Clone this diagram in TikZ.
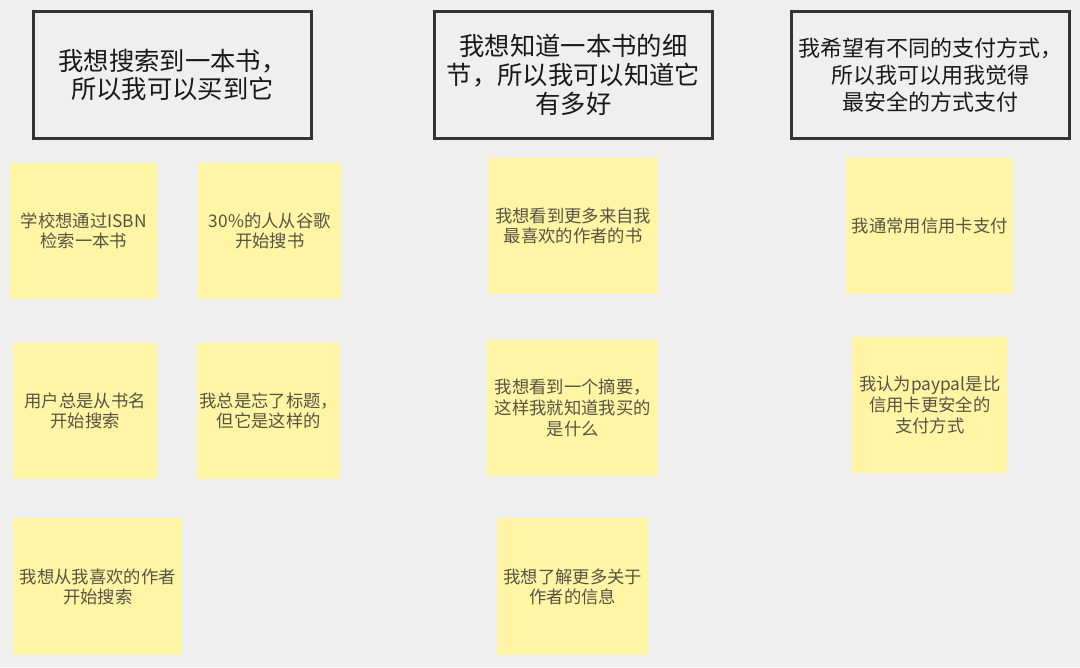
\documentclass[tikz,border=0pt]{standalone}
\usepackage{fontspec}
\setmainfont{Noto Sans CJK SC}
\usepackage{xcolor}
\usetikzlibrary{positioning}

\definecolor{bggray}{HTML}{EFEFEF}
\definecolor{noteyellow}{HTML}{FFF5A5}
\definecolor{notetext}{HTML}{555444}
\definecolor{framegray}{HTML}{333333}

\begin{document}
\begin{tikzpicture}[
    x=0.75pt, y=-0.75pt,
    story/.style={rectangle, draw=framegray, line width=2.2pt, fill=bggray, align=center, anchor=north west, inner sep=0pt, minimum width=208.5pt, minimum height=95.25pt, text=black!90, font=\fontsize{19}{21.5}\selectfont},
    note/.style={rectangle, fill=noteyellow, align=center, anchor=north west, inner sep=0pt, minimum height=101.5pt, text=notetext, font=\fontsize{13}{15.5}\selectfont}
]

% Background
\fill[bggray] (0,0) rectangle (1080,667);
\useasboundingbox (0,0) rectangle (1080,667);

% User stories
\node[story] (find) at (32,10) {我想搜索到一本书，\\ 所以我可以买到它};
\node[story] (detail) at (433,10) {我想知道一本书的细\\节，所以我可以知道它\\有多好};
\node[story, font=\fontsize{16.5}{20.5}\selectfont] (pay) at (790,10) {我希望有不同的支付方式，\\ 所以我可以用我觉得\\最安全的方式支付};

% Notes: search
\node[note, minimum width=110.25pt] (isbn) at (10,163) {学校想通过ISBN\\检索一本书};
\node[note, minimum width=107.25pt] (google) at (198,163) {30\%的人从谷歌\\开始搜书};
\node[note, minimum width=108pt] (title) at (13,343) {用户总是从书名\\开始搜索};
\node[note, minimum width=107.25pt] (forget) at (197,343) {我总是忘了标题，\\但它是这样的};
\node[note, minimum width=126.75pt, minimum height=102.75pt] (author) at (13,518) {我想从我喜欢的作者\\开始搜索};

% Notes: details
\node[note, minimum width=127.5pt] (more) at (488,158) {我想看到更多来自我\\最喜欢的作者的书};
\node[note, minimum width=128.25pt] (summary) at (487,340) {我想看到一个摘要，\\这样我就知道我买的\\是什么};
\node[note, minimum width=113.25pt, minimum height=102.75pt] (about) at (497,518) {我想了解更多关于\\作者的信息};

% Notes: payment
\node[note, minimum width=125.25pt] (card) at (846,158) {我通常用信用卡支付};
\node[note, minimum width=116.25pt] (paypal) at (852,337) {我认为paypal是比\\信用卡更安全的\\支付方式};

\end{tikzpicture}
\end{document}
